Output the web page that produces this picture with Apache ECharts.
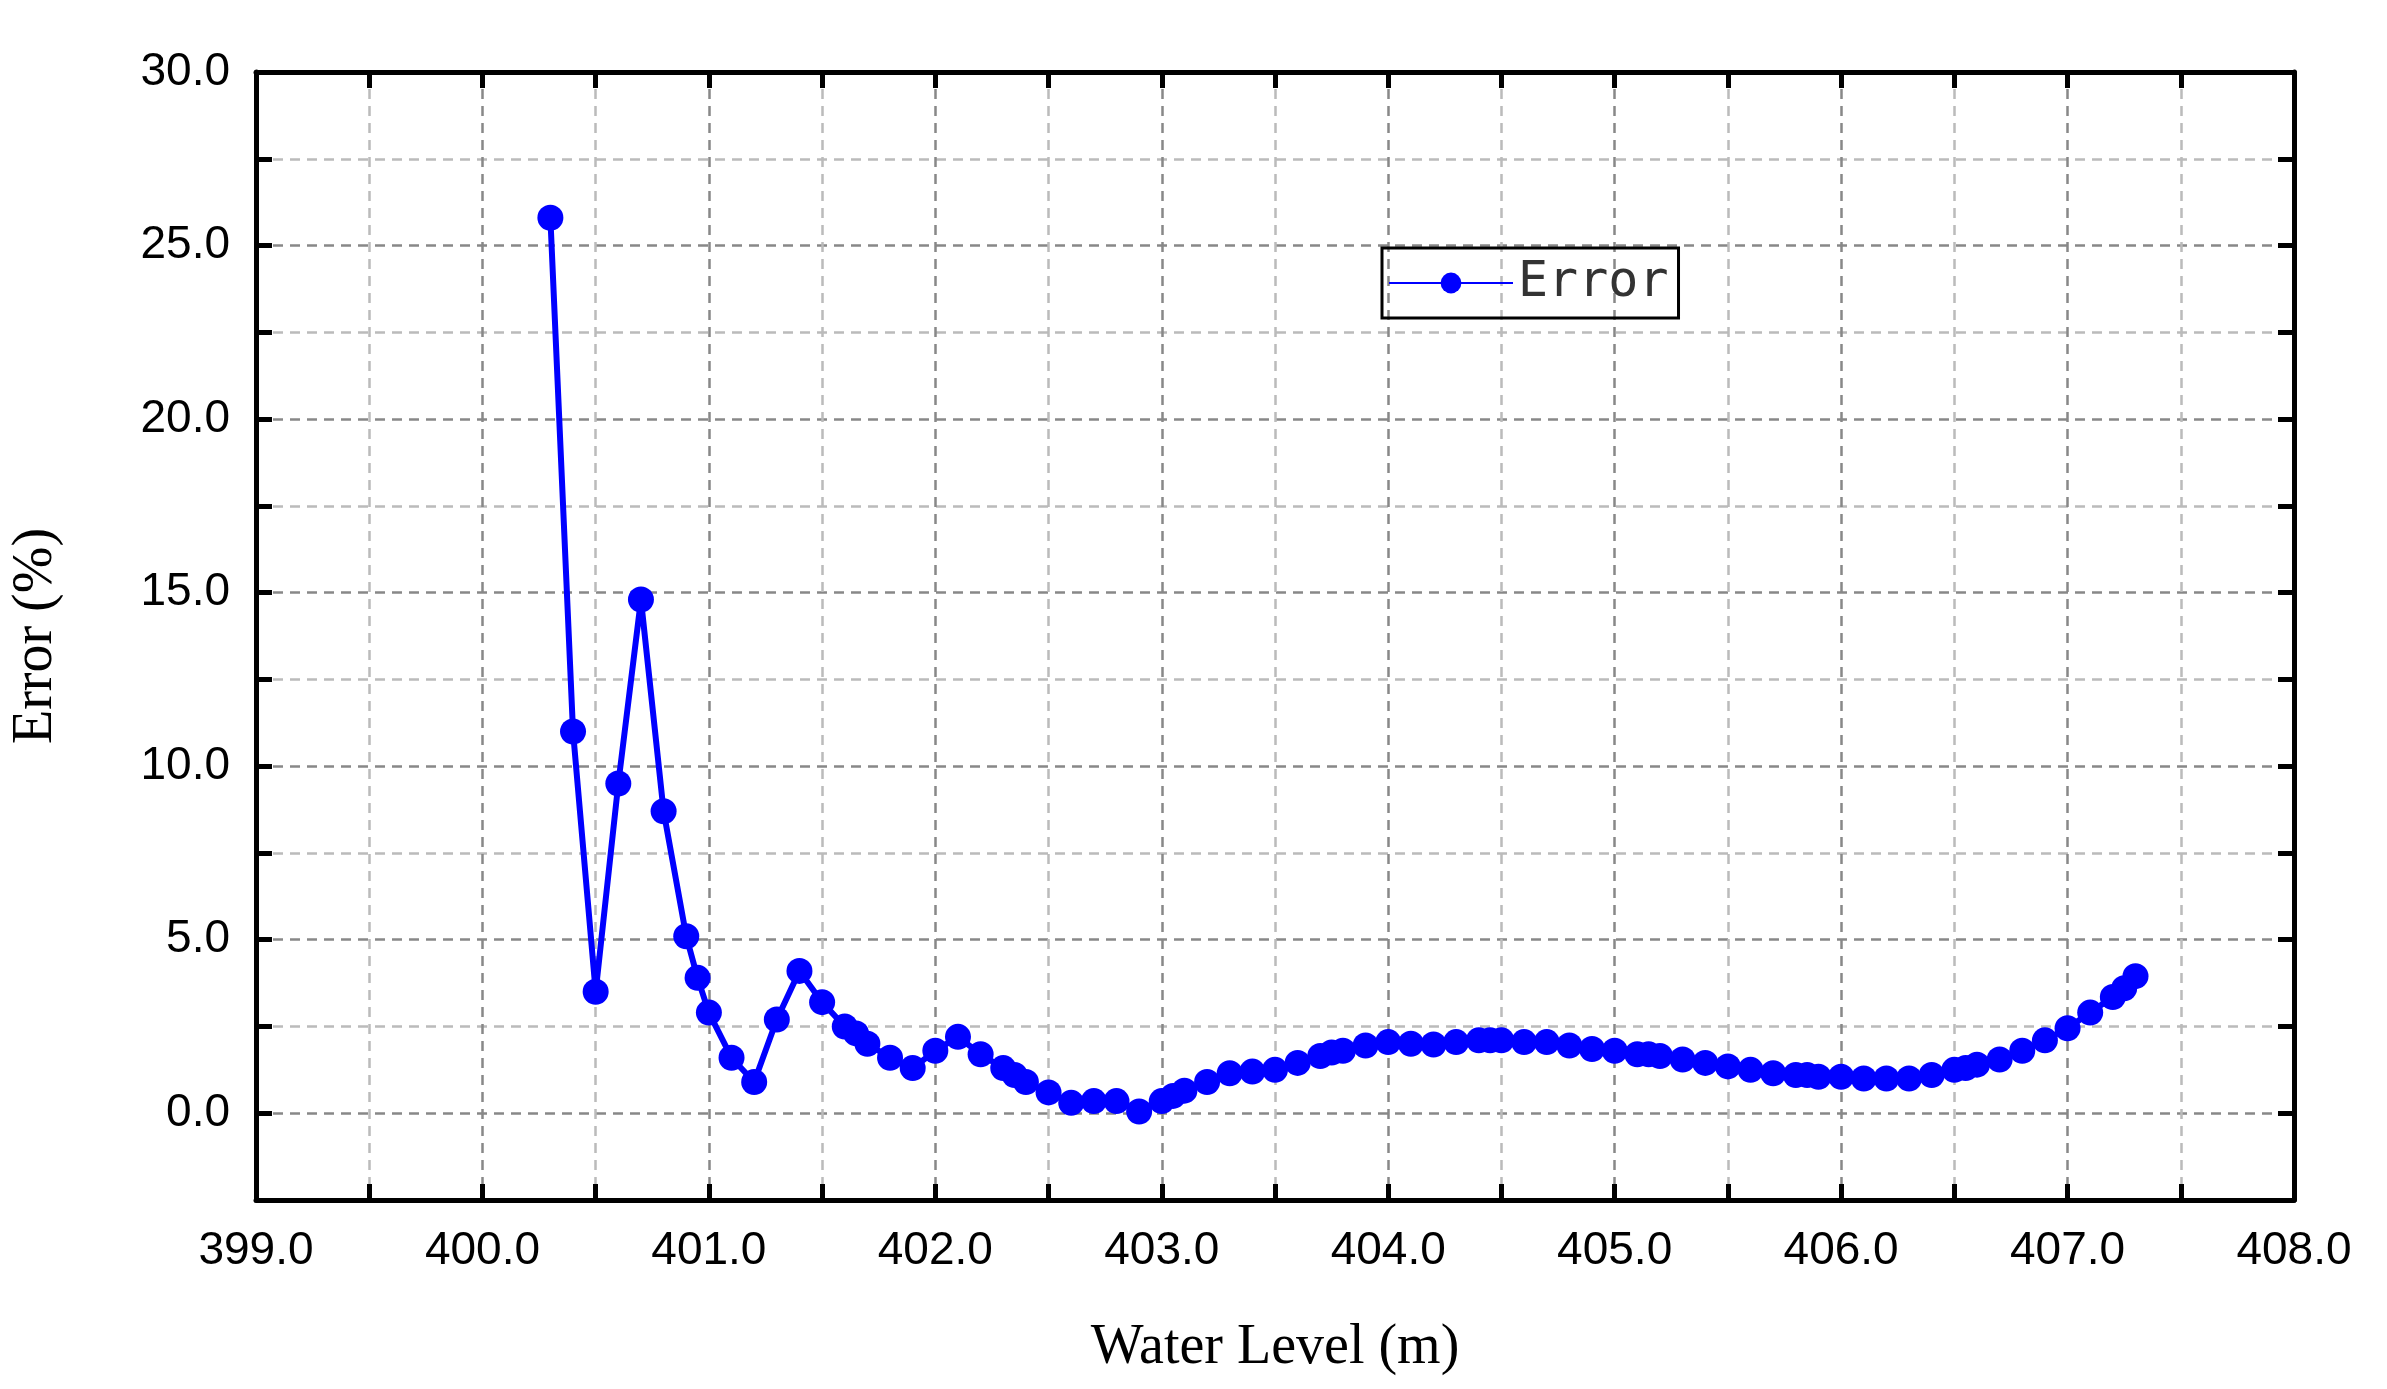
<!DOCTYPE html>
<html>
<head>
<meta charset="utf-8">
<script src="https://cdn.jsdelivr.net/npm/echarts@6/dist/echarts.min.js"></script>
<style>html,body{margin:0;background:#fff}#main{width:2387px;height:1389px}</style>
</head>
<body>
<div id="main"></div>
<script>
const waterLevel = [400.3, 400.4, 400.5, 400.6, 400.7, 400.8, 400.9, 400.95, 401.0, 401.1, 401.2, 401.3, 401.4, 401.5, 401.6, 401.65, 401.7, 401.8, 401.9, 402.0, 402.1, 402.2, 402.3, 402.35, 402.4, 402.5, 402.6, 402.7, 402.8, 402.9, 403.0, 403.05, 403.1, 403.2, 403.3, 403.4, 403.5, 403.6, 403.7, 403.75, 403.8, 403.9, 404.0, 404.1, 404.2, 404.3, 404.4, 404.45, 404.5, 404.6, 404.7, 404.8, 404.9, 405.0, 405.1, 405.15, 405.2, 405.3, 405.4, 405.5, 405.6, 405.7, 405.8, 405.85, 405.9, 406.0, 406.1, 406.2, 406.3, 406.4, 406.5, 406.55, 406.6, 406.7, 406.8, 406.9, 407.0, 407.1, 407.2, 407.25, 407.3]
const errorPct = [25.8, 11.0, 3.5, 9.5, 14.8, 8.7, 5.1, 3.9, 2.9, 1.6, 0.9, 2.7, 4.1, 3.2, 2.5, 2.3, 2.0, 1.6, 1.3, 1.8, 2.2, 1.7, 1.3, 1.1, 0.9, 0.6, 0.3, 0.35, 0.35, 0.05, 0.35, 0.5, 0.65, 0.9, 1.15, 1.2, 1.25, 1.45, 1.65, 1.75, 1.8, 1.95, 2.05, 2.0, 1.98, 2.05, 2.1, 2.1, 2.1, 2.05, 2.05, 1.95, 1.85, 1.8, 1.7, 1.7, 1.65, 1.55, 1.45, 1.35, 1.25, 1.15, 1.1, 1.1, 1.05, 1.05, 1.0, 1.0, 1.0, 1.1, 1.25, 1.3, 1.4, 1.55, 1.8, 2.1, 2.45, 2.9, 3.35, 3.6, 3.95]

let chart = echarts.init(document.getElementById('main'))
let tickFont = { fontFamily: 'Liberation Sans', fontSize: 46, color: '#000' }
let axisBase = {
  axisLine: { show: true, onZero: false, lineStyle: { color: '#000', width: 5 } },
  axisTick: { show: true, inside: true, length: 16, lineStyle: { color: '#000', width: 5 } }
}

chart.setOption({
  animation: false,
  grid: { left: 252, right: 93, top: 72, bottom: 189, containLabel: false },
  legend: {
    left: 1382, top: 248, itemWidth: 124, itemHeight: 26, itemGap: 0,
    padding: [10, 10, 10, 6],
    borderColor: '#000', borderWidth: 3, borderRadius: 0,
    textStyle: { fontFamily: 'DejaVu Sans Mono', fontSize: 50, color: '#333' }
  },
  xAxis: [{
    type: 'value', min: 399, max: 408, interval: 0.5,
    name: 'Water Level (m)', nameLocation: 'middle', nameGap: 120,
    nameTextStyle: { fontFamily: 'Liberation Serif', fontSize: 56, color: '#000' },
    ...axisBase,
    axisLabel: { ...tickFont, margin: 28, formatter: v => Number.isInteger(v) ? v.toFixed(1) : '' },
    splitLine: { show: true, lineStyle: { type: [10, 7], width: 2.5, color: ['#888', '#bbb'] } }
  }, {
    type: 'value', min: 399, max: 408, interval: 0.5, position: 'top',
    ...axisBase, axisLabel: { show: false }, splitLine: { show: false }
  }],
  yAxis: [{
    type: 'value', min: -2.5, max: 30, interval: 2.5,
    name: 'Error (%)', nameLocation: 'middle', nameGap: 192,
    nameTextStyle: { fontFamily: 'Liberation Serif', fontSize: 56, color: '#000' },
    ...axisBase,
    axisLabel: { ...tickFont, margin: 26, formatter: v => (v >= 0 && v % 5 === 0) ? v.toFixed(1) : '' },
    splitLine: { show: true, lineStyle: { type: [10, 7], width: 2.5, color: ['#bbb', '#888'] } }
  }, {
    type: 'value', min: -2.5, max: 30, interval: 2.5, position: 'right',
    ...axisBase, axisLabel: { show: false }, splitLine: { show: false }
  }],
  series: [{
    name: 'Error', type: 'line',
    data: waterLevel.map((x, i) => [x, errorPct[i]]),
    symbol: 'circle', symbolSize: 26,
    lineStyle: { color: '#0000ff', width: 6 },
    itemStyle: { color: '#0000ff' }
  }]
})
</script>
</body>
</html>
